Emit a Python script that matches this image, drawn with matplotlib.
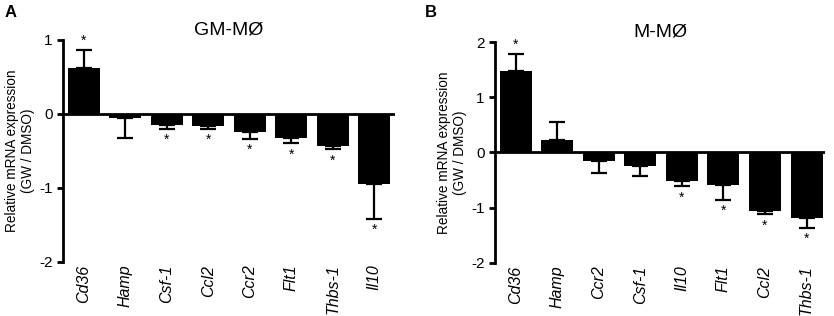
import matplotlib
matplotlib.use('Agg')
from matplotlib import pyplot as plt
import numpy as np

plt.rcParams['font.family'] = ['Liberation Sans', 'DejaVu Sans']

# panel A: GM-MØ
genes_a = ['Cd36', 'Hamp', 'Csf-1', 'Ccl2', 'Ccr2', 'Flt1', 'Thbs-1', 'Il10']
vals_a = [0.62, -0.05, -0.15, -0.16, -0.25, -0.33, -0.43, -0.95]
errs_a = [0.24, 0.28, 0.05, 0.04, 0.09, 0.07, 0.05, 0.47]
sig_a = [1, 0, 1, 1, 1, 1, 1, 1]

# panel B: M-MØ
genes_b = ['Cd36', 'Hamp', 'Ccr2', 'Csf-1', 'Il10', 'Flt1', 'Ccl2', 'Thbs-1']
vals_b = [1.47, 0.22, -0.15, -0.24, -0.51, -0.59, -1.06, -1.18]
errs_b = [0.31, 0.34, 0.22, 0.18, 0.10, 0.27, 0.06, 0.18]
sig_b = [1, 0, 0, 0, 1, 1, 1, 1]

fig = plt.figure(figsize=(8.34, 3.16), dpi=100)
axA = fig.add_axes([0.0755, 0.171, 0.398, 0.703])
axB = fig.add_axes([0.5935, 0.168, 0.396, 0.699])


def panel(ax, genes, vals, errs, sig, title, ylim, yticks, xright):
    x = np.arange(len(genes))
    vals = np.array(vals)
    errs = np.array(errs)
    ax.bar(x, vals, width=0.77, color='black', zorder=2)
    lower = np.where(vals < 0, errs, 0)
    upper = np.where(vals >= 0, errs, 0)
    ax.errorbar(x, vals, yerr=[lower, upper], fmt='none', ecolor='black',
                elinewidth=1.6, capsize=6, capthick=1.6, zorder=1)
    for xi, v, e, s in zip(x, vals, errs, sig):
        if not s:
            continue
        if v >= 0:
            ax.annotate('*', (xi, v + e), xytext=(0, 2), textcoords='offset points',
                        ha='center', va='bottom', fontsize=10)
        else:
            ax.annotate('*', (xi, v - e), xytext=(0, -3), textcoords='offset points',
                        ha='center', va='top', fontsize=10)
    ax.axhline(0, color='black', lw=2, zorder=3)
    ax.set_xlim(-0.5, xright)
    ax.set_ylim(*ylim)
    ax.set_yticks(yticks)
    ax.set_yticklabels([str(t) for t in yticks], fontsize=11)
    ax.set_xticks(x)
    ax.set_xticklabels(genes, rotation=90, style='italic', fontsize=11.5)
    ax.tick_params(axis='x', length=0, pad=2)
    ax.tick_params(axis='y', direction='out', length=4.5, width=2, pad=3)
    for sp in ['top', 'right', 'bottom']:
        ax.spines[sp].set_visible(False)
    ax.spines['left'].set_linewidth(2)
    ax.set_title(title, fontsize=14, pad=4)
    ax.set_ylabel('Relative mRNA expression\n(GW / DMSO)', fontsize=9.8, labelpad=3)


panel(axA, genes_a, vals_a, errs_a, sig_a, 'GM-MØ', (-2, 1), [-2, -1, 0, 1], 7.5)
panel(axB, genes_b, vals_b, errs_b, sig_b, 'M-MØ', (-2, 2), [-2, -1, 0, 1, 2], 7.45)

fig.text(0.006, 0.985, 'A', fontsize=12, fontweight='bold', va='top')
fig.text(0.509, 0.985, 'B', fontsize=12, fontweight='bold', va='top')

fig.savefig('out.png', dpi=100)
